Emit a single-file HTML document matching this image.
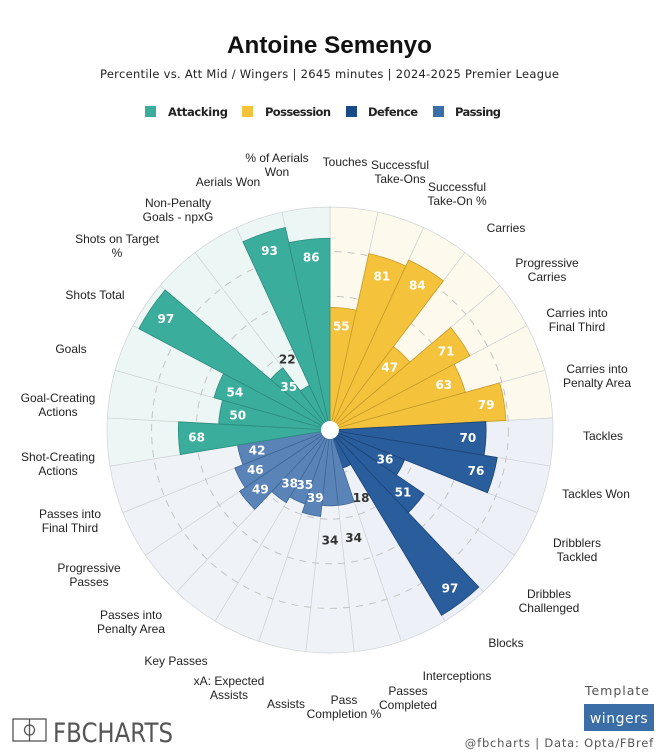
<!DOCTYPE html>
<html><head><meta charset="utf-8">
<style>
html,body{margin:0;padding:0;background:#fff;}
body{width:660px;height:755px;position:relative;overflow:hidden;font-family:"Liberation Sans",sans-serif;}
svg{position:absolute;left:0;top:0;}
</style></head>
<body>
<svg id="s" width="660" height="755" viewBox="0 0 660 755" xmlns="http://www.w3.org/2000/svg">
<text x="227" y="53" font-family="Liberation Sans, sans-serif" font-weight="bold" font-size="24.5" fill="#111" textLength="205" lengthAdjust="spacingAndGlyphs">Antoine Semenyo</text>
<text x="100" y="78" font-family="DejaVu Sans, sans-serif" font-size="11.5" fill="#222" textLength="459" lengthAdjust="spacing">Percentile vs. Att Mid / Wingers | 2645 minutes | 2024-2025 Premier League</text>
<g font-family="DejaVu Sans, sans-serif" font-weight="bold" font-size="11.5" fill="#222">
<rect x="145" y="106" width="11" height="11" fill="#3aad9c"/><text x="168" y="116" textLength="60" lengthAdjust="spacing">Attacking</text>
<rect x="242" y="106" width="11" height="11" fill="#f4c23b"/><text x="265" y="116" textLength="66" lengthAdjust="spacing">Possession</text>
<rect x="346" y="106" width="11" height="11" fill="#174b86"/><text x="368" y="116" textLength="50" lengthAdjust="spacing">Defence</text>
<rect x="433" y="106" width="11" height="11" fill="#3b6ea6"/><text x="455" y="116" textLength="46" lengthAdjust="spacing">Passing</text>
</g>
<g id="chart"></g>
<g font-family="Liberation Sans, sans-serif" font-size="12" fill="#222" text-anchor="middle" id="labels"></g>
<rect x="13" y="719" width="33" height="22" fill="none" stroke="#555" stroke-width="1.3"/>
<line x1="29.5" y1="719" x2="29.5" y2="741" stroke="#555" stroke-width="1.3"/>
<circle cx="29.5" cy="730" r="5" fill="none" stroke="#555" stroke-width="1.3"/>
<text x="53" y="742" font-family="DejaVu Sans, sans-serif" font-size="27" fill="#555" textLength="120" lengthAdjust="spacingAndGlyphs">FBCHARTS</text>
<text x="650" y="695" text-anchor="end" font-family="DejaVu Sans, sans-serif" font-size="12.5" fill="#555" letter-spacing="1">Template</text>
<rect x="584" y="704" width="70" height="27" fill="#3b6ea6"/>
<text x="619" y="723" text-anchor="middle" font-family="DejaVu Sans, sans-serif" font-size="14" fill="#fff" letter-spacing="0.5">wingers</text>
<text x="654" y="747" text-anchor="end" font-family="DejaVu Sans, sans-serif" font-size="11.5" fill="#555" letter-spacing="0.8">@fbcharts | Data: Opta/FBref</text>
</svg>
<script>
var cx=330,cy=430,R=223,N=29,step=360/N;
var vals=[55,81,84,47,71,63,79,70,76,36,51,97,18,34,34,39,35,38,49,46,42,68,50,54,97,35,22,93,86];
function grp(i){return i<7?1:i<13?2:i<21?3:0;}
var bar=["#3aad9c","#f4c23b","#2a5d9b","#5a84b8"];
var edge=["#2e8c7e","#c79b2b","#1c4479","#3f6696"];
var bg=["#ecf6f4","#fdf9ec","#edf1f7","#eff3f7"];
function pt(a,r){var t=(a-90)*Math.PI/180;return [cx+r*Math.cos(t),cy+r*Math.sin(t)];}
function wedge(a0,a1,r){var p0=pt(a0,r),p1=pt(a1,r);return "M"+cx+","+cy+"L"+p0[0].toFixed(2)+","+p0[1].toFixed(2)+"A"+r+","+r+" 0 0 1 "+p1[0].toFixed(2)+","+p1[1].toFixed(2)+"Z";}
var h="";
for(var i=0;i<N;i++){var g=grp(i);h+='<path d="'+wedge(i*step,(i+1)*step,R)+'" fill="'+bg[g]+'" stroke="#cfd3d6" stroke-width="0.7"/>';}
[0.2,0.4,0.6,0.8].forEach(function(f){h+='<circle cx="'+cx+'" cy="'+cy+'" r="'+(R*f)+'" fill="none" stroke="#c4c4c4" stroke-width="1" stroke-dasharray="7,6"/>';});
for(var i=0;i<N;i++){var g=grp(i);h+='<path d="'+wedge(i*step,(i+1)*step,vals[i]/100*R)+'" fill="'+bar[g]+'" stroke="'+edge[g]+'" stroke-width="0.8"/>';}
h+='<circle cx="'+cx+'" cy="'+cy+'" r="9" fill="#fff"/>';
for(var i=0;i<N;i++){var v=vals[i],r=v/100*R,m=(i+0.5)*step,out=v<35;var p=pt(m,out?r+34:r-18);
h+='<text x="'+p[0].toFixed(1)+'" y="'+(p[1]+4.5).toFixed(1)+'" text-anchor="middle" font-family="DejaVu Sans, sans-serif" font-weight="bold" font-size="12" fill="'+(out?"#333":"#fff")+'">'+v+'</text>';}
document.getElementById("chart").innerHTML=h;
var L=[["% of Aerials|Won",277,165],["Touches",345,162],["Successful|Take-Ons",400,172],["Successful|Take-On %",457,194],["Carries",506,228],["Progressive|Carries",547,270],["Carries into|Final Third",577,320],["Carries into|Penalty Area",597,376],["Tackles",603,436],["Tackles Won",596,494],["Dribblers|Tackled",577,550],["Dribbles|Challenged",549,601],["Blocks",506,643],["Interceptions",457,676],["Passes|Completed",408,698],["Pass|Completion %",344,707],["Assists",286,704],["xA: Expected|Assists",229,688],["Key Passes",176,661],["Passes into|Penalty Area",131,622],["Progressive|Passes",89,575],["Passes into|Final Third",70,521],["Shot-Creating|Actions",58,464],["Goal-Creating|Actions",58,405],["Goals",71,349],["Shots Total",95,295],["Shots on Target|%",117,246],["Non-Penalty|Goals - npxG",178,210],["Aerials Won",228,182]];
var t="";
L.forEach(function(l){var parts=l[0].split("|");var y0=l[2]-(parts.length-1)*7+4;
parts.forEach(function(s,k){t+='<text x="'+l[1]+'" y="'+(y0+k*14)+'">'+s+'</text>';});});
document.getElementById("labels").innerHTML=t;
</script>
</body></html>
